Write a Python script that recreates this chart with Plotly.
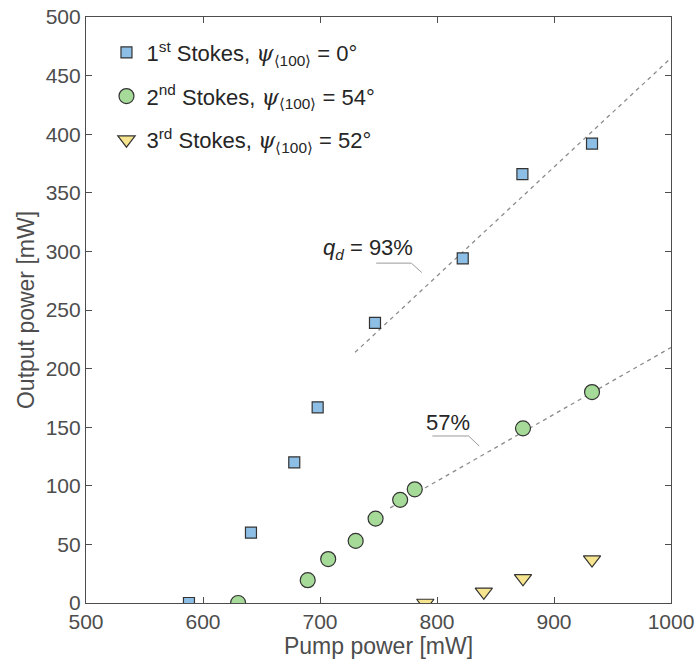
import numpy as np
import plotly.graph_objects as go

# ---- data ----
s1_pump = [588, 641, 678, 698, 747, 822, 873, 932.5]
s1_out = [0, 60, 120, 167, 239, 294, 366, 392]

s2_pump = [630, 689.5, 707, 730.5, 747.5, 768.5, 781, 873.5, 932.5]
s2_out = [0, 19.5, 37.5, 53, 72, 88, 97, 149, 180]

s3_pump = [790, 840, 873.5, 932.5]
s3_out = [0, 9.5, 21, 37]

fit_slope = [0.93, 0.57]
fit_intercept = [-465, -352]
fit_start = [730, 760]
fit_end = [1000, 1000]

labels = ["<i>q</i><sub><i>d</i></sub> = 93%", "57%"]
label_x = [741, 809]
label_y = [302, 154]
leader_x = [[748, 778, 787], [796, 827, 836]]
leader_y = [[290, 290, 282], [142.5, 142.5, 134]]

x_ticks = [500, 600, 700, 800, 900, 1000]
y_ticks = [0, 50, 100, 150, 200, 250, 300, 350, 400, 450, 500]

PSI = '<span style="font-family:DejaVu Serif"><i>ψ</i></span>'
names = [
    f"1<sup>st</sup> Stokes, {PSI}<sub>⟨100⟩</sub> = 0°",
    f"2<sup>nd</sup> Stokes, {PSI}<sub>⟨100⟩</sub> = 54°",
    f"3<sup>rd</sup> Stokes, {PSI}<sub>⟨100⟩</sub> = 52°",
]

fig = go.Figure()

# fit lines
for s, b, x0, x1 in zip(fit_slope, fit_intercept, fit_start, fit_end):
    xs = np.array([x0, x1], dtype=float)
    fig.add_trace(go.Scatter(x=xs, y=s * xs + b, mode="lines",
                             line=dict(color="#8c8c8c", width=1.3, dash="4px,4px"),
                             showlegend=False, hoverinfo="skip"))

# leader lines
for lx, ly in zip(leader_x, leader_y):
    fig.add_trace(go.Scatter(x=lx, y=ly, mode="lines",
                             line=dict(color="#9a9a9a", width=1),
                             showlegend=False, hoverinfo="skip"))

fig.add_trace(go.Scatter(x=s1_pump, y=s1_out, mode="markers", name=names[0],
                         legendgroup="a",
                         marker=dict(symbol="square", size=11, color="#8dbfe6",
                                     line=dict(color="#333333", width=1.2))))
fig.add_trace(go.Scatter(x=s2_pump, y=s2_out, mode="markers", name=names[1],
                         legendgroup="b",
                         marker=dict(symbol="circle", size=15, color="#a6da98",
                                     line=dict(color="#333333", width=1.2))))
fig.add_trace(go.Scatter(x=s3_pump, y=s3_out, mode="markers", name=names[2],
                         legendgroup="c",
                         marker=dict(symbol="triangle-down", size=15, color="#f6e48e",
                                     line=dict(color="#333333", width=1.2))))

for t, x, y in zip(labels, label_x, label_y):
    fig.add_annotation(x=x, y=y, text=t, showarrow=False,
                       font=dict(size=22, color="#262626", family="Liberation Sans, Arial"))

axis_common = dict(showline=True, linecolor="#4d4d4d", linewidth=1.2, mirror="ticks",
                   ticks="inside", ticklen=6, tickwidth=1.2, tickcolor="#4d4d4d",
                   showgrid=False, zeroline=False, automargin=False,
                   tickfont=dict(size=21, color="#4d4d4d"))

fig.update_xaxes(range=[500, 1000], tickvals=x_ticks,
                 title=dict(text="Pump power [mW]", font=dict(size=23, color="#4d4d4d"), standoff=2),
                 **axis_common)
fig.update_yaxes(range=[0, 500], tickvals=y_ticks,
                 title=dict(text="Output power [mW]", font=dict(size=23, color="#4d4d4d"), standoff=4),
                 **axis_common)

fig.update_layout(
    width=696, height=665,
    margin=dict(l=86, r=25, t=17, b=62),
    plot_bgcolor="white", paper_bgcolor="white",
    font=dict(family="Liberation Sans, Arial", color="#262626"),
    legend=dict(x=0.035, y=0.975, xanchor="left", yanchor="top",
                bgcolor="rgba(0,0,0,0)", font=dict(size=22, color="#262626"),
                traceorder="grouped", tracegroupgap=12, itemwidth=30),
)

fig.write_html("out.html", config={"displayModeBar": False},
               post_script="document.body.style.margin='0';")
